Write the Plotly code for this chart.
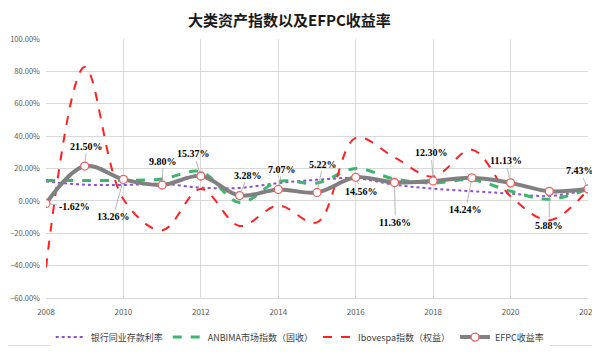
import plotly.graph_objects as go

years = list(range(2008, 2023))
bank_rate = [12.0, 10.0, 9.8, 10.5, 8.2, 8.0, 11.0, 13.0, 14.0, 10.0, 7.5, 6.0, 4.5, 3.0, 7.0]
anbima = [12.6, 12.6, 12.7, 13.5, 18.0, -1.0, 12.0, 11.0, 20.0, 13.5, 11.0, 13.0, 6.0, 1.0, 7.4]
ibovespa = [-41.2, 82.7, 1.0, -18.1, 7.4, -15.5, -2.9, -13.3, 38.9, 26.9, 15.0, 31.6, 2.9, -11.9, 7.0]
efpc = [-1.62, 21.50, 13.26, 9.80, 15.37, 3.28, 7.07, 5.22, 14.56, 11.36, 12.30, 14.24, 11.13, 5.88, 7.43]
efpc_labels = ["-1.62%", "21.50%", "13.26%", "9.80%", "15.37%", "3.28%", "7.07%", "5.22%",
               "14.56%", "11.36%", "12.30%", "14.24%", "11.13%", "5.88%", "7.43%"]
# label offsets in pixels (ax, ay)
label_offsets = [(28, 3), (2, -20), (-10, 37), (1, -24), (-7, -22), (8, -20), (4, -20), (6, -28),
                 (6, 14), (1, 40), (-2, -28), (-6, 32), (-5, -22), (0, 34), (-8, -18)]

fig = go.Figure()
fig.add_trace(go.Scatter(x=years, y=bank_rate, name="银行同业存款利率", mode="lines",
                         line=dict(color="#8e4fd0", width=2, dash="dot", shape="spline", smoothing=1.0)))
fig.add_trace(go.Scatter(x=years, y=anbima, name="ANBIMA市场指数（固收）", mode="lines",
                         line=dict(color="#3cb56e", width=3, dash="dash", shape="spline", smoothing=1.0)))
fig.add_trace(go.Scatter(x=years, y=ibovespa, name="Ibovespa指数（权益）", mode="lines",
                         line=dict(color="#ff2020", width=2, dash="dash", shape="spline", smoothing=1.0)))
fig.add_trace(go.Scatter(x=years, y=efpc, name="EFPC收益率", mode="lines+markers",
                         line=dict(color="#808080", width=4, shape="spline", smoothing=1.0),
                         marker=dict(size=8, color="white", line=dict(color="#f06060", width=1.3))))

for x, y, t, (ax, ay) in zip(years, efpc, efpc_labels, label_offsets):
    fig.add_annotation(x=x, y=y, text="<b>" + t + "</b>", showarrow=True, arrowhead=0,
                       arrowwidth=0.8, arrowcolor="#a6a6a6", ax=ax, ay=ay, standoff=4,
                       font=dict(size=10, color="black", family="Liberation Serif, Noto Serif CJK SC"))

# light outer frame (right and bottom edges visible in the window)
fig.add_shape(type="line", xref="paper", yref="paper", x0=1.0203, x1=1.0203, y0=-0.184, y1=1.2,
              line=dict(color="#d9d9d9", width=1))
fig.add_shape(type="line", xref="paper", yref="paper", x0=-0.1, x1=1.0203, y0=-0.184, y1=-0.184,
              line=dict(color="#d9d9d9", width=1))

fig.update_layout(
    width=600, height=356,
    margin=dict(l=38, r=20, t=31, b=59),
    paper_bgcolor="white", plot_bgcolor="white",
    title=dict(text="<b>大类资产指数以及EFPC收益率</b>", x=0.469, xanchor="center", y=0.965, yanchor="middle",
               font=dict(size=15, color="#1a1a1a", family="Noto Sans CJK SC")),
    font=dict(family="Noto Sans CJK SC", color="#595959"),
    xaxis=dict(range=[2008, 2022], dtick=2, tick0=2008, showgrid=True, gridcolor="#d9d9d9",
               zeroline=False, showline=True, linecolor="#d9d9d9", ticks="", automargin=False,
               ticklabelstandoff=6, tickfont=dict(size=8, color="#595959")),
    yaxis=dict(range=[-60, 100], dtick=20, showgrid=True, gridcolor="#d9d9d9", zeroline=True,
               zerolinecolor="#d9d9d9", zerolinewidth=1, tickformat=".2f", ticksuffix="%",
               automargin=False, ticklabelstandoff=5,
               tickfont=dict(size=7.5, color="#595959"), ticks=""),
    legend=dict(orientation="h", x=0.469, xanchor="center", y=-0.095, yanchor="top",
                font=dict(size=9, color="#404040"), itemwidth=30, tracegroupgap=0),
    showlegend=True,
)

fig.write_html("out.html")
